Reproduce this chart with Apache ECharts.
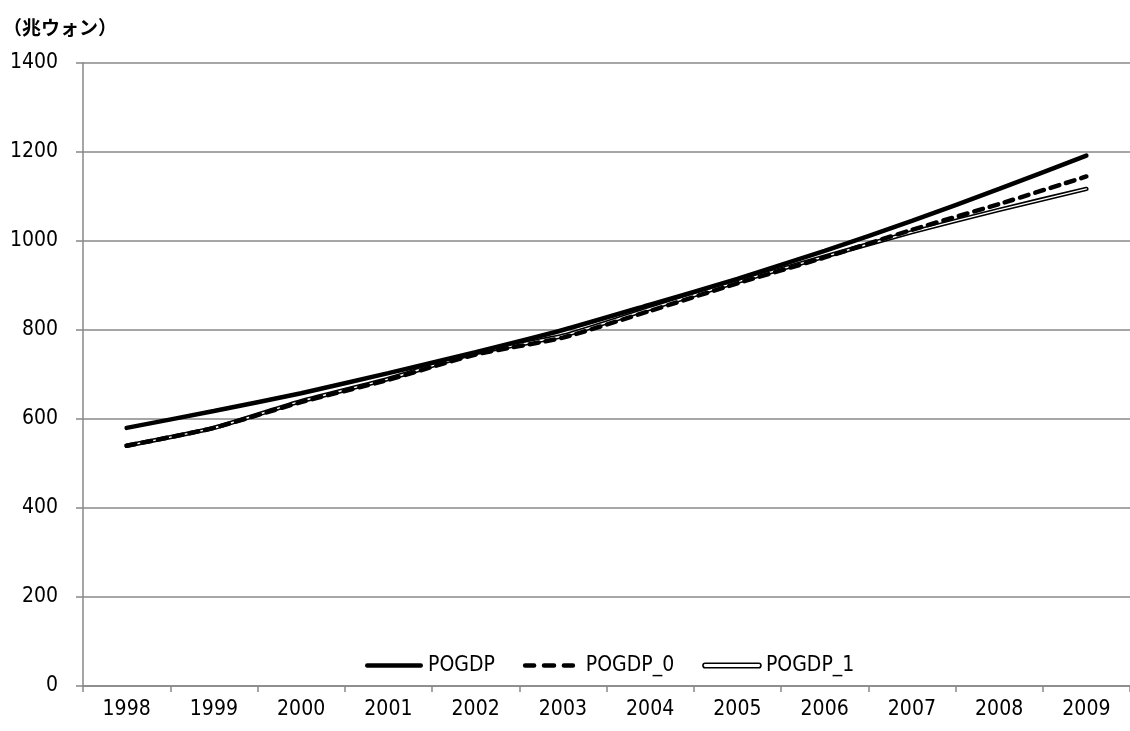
<!DOCTYPE html>
<html><head><meta charset="utf-8">
<script src="https://cdn.jsdelivr.net/npm/echarts@6/dist/echarts.min.js"></script>
<style>html,body{margin:0;padding:0;background:#fff}#c{width:1130px;height:731px}</style>
</head><body><div id="c"></div>
<script>
const categories = ['1998','1999','2000','2001','2002','2003','2004','2005','2006','2007','2008','2009'];
const POGDP   = [580, 618, 658, 703, 750, 800, 857, 915, 978, 1045, 1117, 1192];
const POGDP_0 = [540, 580, 638, 688, 745, 783, 843, 905, 963, 1025, 1083, 1145];
const POGDP_1 = [540, 580, 640, 690, 748, 787, 848, 908, 965, 1020, 1070, 1117];
const yTicks = [0, 200, 400, 600, 800, 1000, 1200, 1400];
const unitLabel = '（兆ウォン）';

const font = '"DejaVu Sans Condensed", "Liberation Sans", sans-serif';
const chart = echarts.init(document.getElementById('c'), null, {renderer: 'canvas'});
chart.setOption({
  animation: false,
  backgroundColor: '#fff',
  title: {text: unitLabel, left: 3, top: 18, padding: 0, textStyle: {fontFamily: '"Noto Sans CJK JP", sans-serif', fontSize: 19, fontWeight: 'bold', color: '#000'}},
  grid: {left: 83, right: 0, top: 63, bottom: 45, containLabel: false},
  legend: {
    left: 365, top: 655, itemWidth: 58, itemHeight: 14, itemGap: 28, padding: 0,
    textStyle: {fontFamily: font, fontSize: 21, color: '#000'},
    data: [
      {name: 'POGDP', icon: 'path://M2,0 L56,0 A2,2 0 0 1 56,4.6 L2,4.6 A2,2 0 0 1 2,0 Z', itemStyle: {color: '#000', borderWidth: 0}},
      {name: 'POGDP_0', icon: 'path://M2,0 L11,0 A2,2 0 0 1 11,4.6 L2,4.6 A2,2 0 0 1 2,0 Z M21,0 L31,0 A2,2 0 0 1 31,4.6 L21,4.6 A2,2 0 0 1 21,0 Z M41,0 L50,0 A2,2 0 0 1 50,4.6 L41,4.6 A2,2 0 0 1 41,0 Z M58,0 L58,0.01 Z', itemStyle: {color: '#000', borderWidth: 0}},
      {name: 'POGDP_1', icon: 'path://M2,0 L56,0 A2,2 0 0 1 56,4.6 L2,4.6 A2,2 0 0 1 2,0 Z', itemStyle: {color: '#fff', borderColor: '#000', borderWidth: 1.6}}
    ]
  },
  xAxis: {
    type: 'category', data: categories, boundaryGap: true,
    axisLine: {lineStyle: {color: '#888', width: 1.5}},
    axisTick: {show: true, length: 6, lineStyle: {color: '#888', width: 1.5}},
    axisLabel: {fontFamily: font, fontSize: 21, color: '#000', margin: 13}
  },
  yAxis: {
    type: 'value', min: yTicks[0], max: yTicks[yTicks.length-1], interval: 200,
    axisLine: {show: true, lineStyle: {color: '#888', width: 1.5}},
    axisTick: {show: true, length: 7, lineStyle: {color: '#888', width: 1.5}},
    axisLabel: {fontFamily: font, fontSize: 21, color: '#000', margin: 25, formatter: v => String(v)},
    splitLine: {lineStyle: {color: '#888', width: 1.5}}
  },
  series: [
    {name: 'POGDP', type: 'line', data: POGDP, symbol: 'none', smooth: 0.2,
     lineStyle: {color: '#000', width: 4.5, cap: 'round'}, itemStyle: {color: '#000'}, z: 5},
    {name: 'POGDP_1', type: 'line', data: POGDP_1, symbol: 'none', smooth: 0.2,
     lineStyle: {color: '#000', width: 4.5, cap: 'round'}, itemStyle: {color: '#000'}, z: 3},
    {name: 'POGDP_1_inner', type: 'line', data: POGDP_1, symbol: 'none', smooth: 0.2,
     lineStyle: {color: '#fff', width: 1.4, cap: 'round'}, itemStyle: {color: '#fff'}, z: 4},
    {name: 'POGDP_0', type: 'line', data: POGDP_0, symbol: 'none', smooth: 0.2,
     lineStyle: {color: '#000', width: 4.5, type: [9, 7], cap: 'round'}, itemStyle: {color: '#000'}, z: 4}
  ]
});
</script></body></html>
